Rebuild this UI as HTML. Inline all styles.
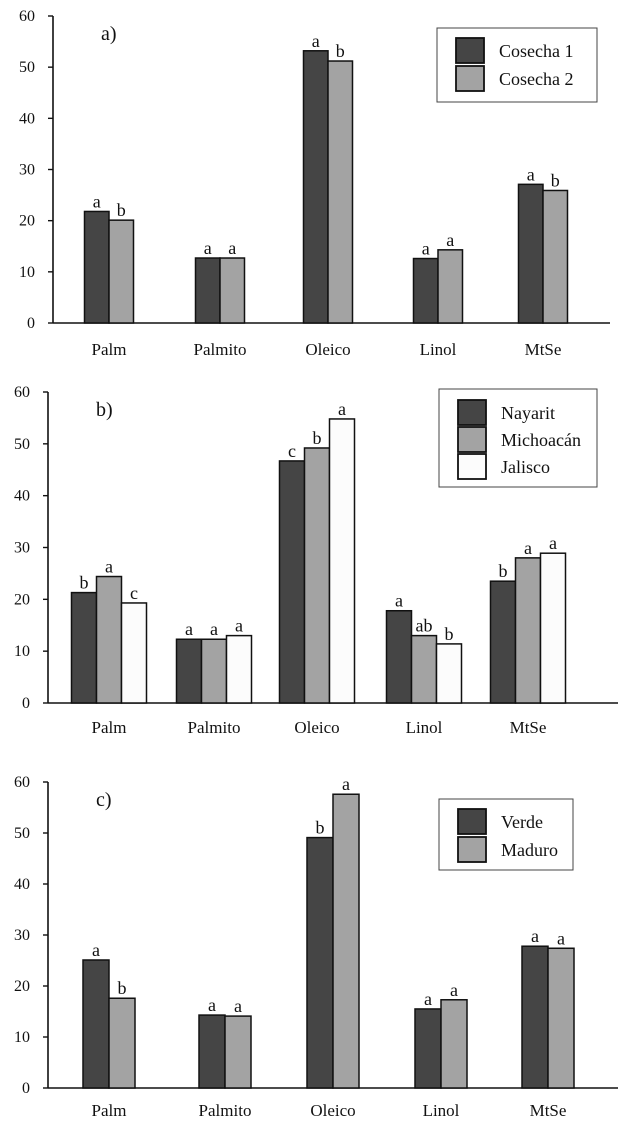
<!DOCTYPE html>
<html><head><meta charset="utf-8"><style>
html,body{margin:0;padding:0;background:#fff;width:626px;height:1136px;overflow:hidden}
svg{display:block}
text{font-family:"Liberation Serif",serif;fill:#111}
</style></head><body>
<svg id="chart" width="626" height="1136" viewBox="0 0 626 1136" xmlns="http://www.w3.org/2000/svg"></svg>
<script>
const categories = ["Palm","Palmito","Oleico","Linol","MtSe"];
const yTicks = [0,10,20,30,40,50,60];
// Panel a
const aSeriesNames = ["Cosecha 1","Cosecha 2"];
const aCosecha1 = [21.8,12.7,53.2,12.6,27.1];
const aCosecha2 = [20.1,12.7,51.2,14.3,25.9];
const aLetters1 = ["a","a","a","a","a"];
const aLetters2 = ["b","a","b","a","b"];
// Panel b
const bSeriesNames = ["Nayarit","Michoacán","Jalisco"];
const bNayarit = [21.3,12.3,46.7,17.8,23.5];
const bMichoacan = [24.4,12.3,49.2,13.0,28.0];
const bJalisco = [19.3,13.0,54.8,11.4,28.9];
const bLetters1 = ["b","a","c","a","b"];
const bLetters2 = ["a","a","b","ab","a"];
const bLetters3 = ["c","a","a","b","a"];
// Panel c
const cSeriesNames = ["Verde","Maduro"];
const cVerde = [25.1,14.3,49.1,15.5,27.8];
const cMaduro = [17.6,14.1,57.6,17.3,27.4];
const cLetters1 = ["a","a","b","a","a"];
const cLetters2 = ["b","a","a","a","a"];

const colors = ["#454545","#a3a3a3","#fcfcfc"];
const NS="http://www.w3.org/2000/svg";
const svg=document.getElementById('chart');
function mk(tag,attrs,parent){const e=document.createElementNS(NS,tag);for(const k in attrs)e.setAttribute(k,attrs[k]);(parent||svg).appendChild(e);return e;}

function panel(cfg){
  const g=mk('g',{});
  
  
  const y=v=>cfg.y0-(v/60)*(cfg.y0-cfg.y60);
  const ya=mk('line',{x1:cfg.ax,y1:cfg.y60,x2:cfg.ax,y2:cfg.y0,stroke:'#111','stroke-width':1.6},g);
  
  
  const xa=mk('line',{x1:cfg.ax,y1:cfg.y0,x2:cfg.xEnd,y2:cfg.y0,stroke:'#111','stroke-width':1.6},g);
  
  
  yTicks.forEach(t=>{
    mk('line',{x1:cfg.ax-5,y1:y(t),x2:cfg.ax,y2:y(t),stroke:'#111','stroke-width':1.4},g);
    const tx=mk('text',{x:cfg.ax-18,y:y(t)+5,'text-anchor':'end','font-size':16},g);
    tx.textContent=t;
    
    
  });
  const pl=mk('text',{x:cfg.ax+48,y:cfg.y60+24,'font-size':20},g);
  pl.textContent=cfg.id+')';
  
  
  const n=cfg.series.length, bw=cfg.bw;
  categories.forEach((c,i)=>{
    const cx=cfg.centers[i];
    const x0=cx-n*bw/2;
    cfg.series.forEach((s,j)=>{
      const v=s[i];
      const r=mk('rect',{x:x0+j*bw,y:y(v),width:bw,height:cfg.y0-y(v),fill:colors[j],stroke:'#111','stroke-width':1.5},g);
      
      
      const lt=mk('text',{x:x0+j*bw+bw/2,y:y(v)-4,'text-anchor':'middle','font-size':18},g);
      lt.textContent=cfg.letters[j][i];
      
      
    });
    const cl=mk('text',{x:cx,y:cfg.y0+cfg.labOff,'text-anchor':'middle','font-size':17},g);
    cl.textContent=c;
    
    
  });
  const L=cfg.legend;
  const lg=mk('g',{},g);
  
  
  mk('rect',{x:L.x,y:L.y,width:L.w,height:L.h,fill:'#fff',stroke:'#444','stroke-width':1},lg);
  cfg.names.forEach((nm,j)=>{
    const ey=L.y+L.pad+j*L.step;
    const sw=mk('rect',{x:L.x+19,y:ey,width:28,height:25,fill:colors[j],stroke:'#111','stroke-width':1.8},lg);
    
    
    const tt=mk('text',{x:L.x+62,y:ey+19,'font-size':18},lg);
    tt.textContent=nm;
    
    
  });
}

panel({id:'a',ax:53,y0:323,y60:16,xEnd:610,bw:24.5,centers:[109,220,328,438,543],labOff:32,
  series:[aCosecha1,aCosecha2],letters:[aLetters1,aLetters2],names:aSeriesNames,
  legend:{x:437,y:28,w:160,h:74,pad:10,step:28}});
panel({id:'b',ax:48,y0:703,y60:392,xEnd:618,bw:25,centers:[109,214,317,424,528],labOff:30,
  series:[bNayarit,bMichoacan,bJalisco],letters:[bLetters1,bLetters2,bLetters3],names:bSeriesNames,
  legend:{x:439,y:389,w:158,h:98,pad:11,step:27}});
panel({id:'c',ax:48,y0:1088,y60:782,xEnd:618,bw:26,centers:[109,225,333,441,548],labOff:28,
  series:[cVerde,cMaduro],letters:[cLetters1,cLetters2],names:cSeriesNames,
  legend:{x:439,y:799,w:134,h:71,pad:10,step:28}});
</script>
</body></html>
